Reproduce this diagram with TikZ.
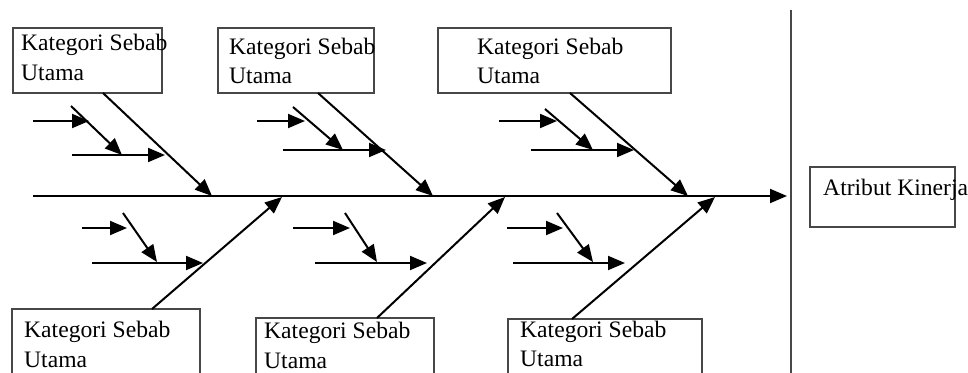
\documentclass[tikz,border=0pt]{standalone}
\usepackage{fontspec}
\setmainfont{Liberation Serif}
\usetikzlibrary{arrows.meta}
\begin{document}
\begin{tikzpicture}[x=1pt,y=-1pt,
  bx/.style={draw=black!72,line width=2.6pt,inner sep=0pt,fill=none},
  txt/.style={inner sep=0pt,font=\fontsize{23.6}{30}\selectfont,anchor=base west},
  ln/.style={line width=2pt,black},
  arr/.style={ln,-{Triangle[length=17pt,width=14pt]}}]
\useasboundingbox (0,0) rectangle (968,372);
% spine and vertical line
\coordinate (sp0) at (33,196);
\coordinate (sp1) at (787,196);
\coordinate (v0) at (791,10);
\coordinate (v1) at (791,380);
\draw[arr] (sp0) -- (sp1);
\draw[bx] (v0) -- (v1);
% boxes
\node[bx,minimum width=149pt,minimum height=65pt] (b1) at (87.5,60.5) {};
\node[bx,minimum width=156pt,minimum height=65pt] (b2) at (296,60.5) {};
\node[bx,minimum width=233pt,minimum height=65pt] (b3) at (554.5,60.5) {};
\node[bx,minimum width=188pt,minimum height=80pt] (b4) at (106,349) {};
\node[bx,minimum width=178pt,minimum height=70pt] (b5) at (345,353) {};
\node[bx,minimum width=194pt,minimum height=70pt] (b6) at (605,354) {};
\node[bx,minimum width=145pt,minimum height=60pt] (ak) at (882.5,197) {};
% texts
\node[txt] (t1a) at (21,50) {Kategori Sebab};
\node[txt] (t1b) at (21,80) {Utama};
\node[txt] (t2a) at (229,54) {Kategori Sebab};
\node[txt] (t2b) at (229,83) {Utama};
\node[txt] (t3a) at (477,54) {Kategori Sebab};
\node[txt] (t3b) at (477,83) {Utama};
\node[txt] (t4a) at (24,337) {Kategori Sebab};
\node[txt] (t4b) at (24,367) {Utama};
\node[txt] (t5a) at (264,338) {Kategori Sebab};
\node[txt] (t5b) at (264,368) {Utama};
\node[txt] (t6a) at (520,337) {Kategori Sebab};
\node[txt] (t6b) at (520,366) {Utama};
\node[txt] (tak) at (823,195) {Atribut Kinerja};
% main bones
\coordinate (m1s) at (103,93);  \coordinate (m1e) at (212,196);
\coordinate (m2s) at (318,93);  \coordinate (m2e) at (433,196);
\coordinate (m3s) at (570,93);  \coordinate (m3e) at (688,196);
\coordinate (m4s) at (152,309); \coordinate (m4e) at (282,197);
\coordinate (m5s) at (377,318); \coordinate (m5e) at (505,197);
\coordinate (m6s) at (572,319); \coordinate (m6e) at (715,197);
\foreach \i in {1,...,6} {\draw[arr] (m\i s) -- (m\i e);}
% small arrows, top
\coordinate (g1a) at (33,121);  \coordinate (g1b) at (89,121);
\coordinate (g1c) at (71,106);  \coordinate (g1d) at (122,155);
\coordinate (g1e) at (72,155);  \coordinate (g1f) at (165,155);
\coordinate (g2a) at (257,121); \coordinate (g2b) at (305,121);
\coordinate (g2c) at (293,107); \coordinate (g2d) at (343,150);
\coordinate (g2e) at (283,150); \coordinate (g2f) at (386,150);
\coordinate (g3a) at (499,121); \coordinate (g3b) at (557,121);
\coordinate (g3c) at (545,109); \coordinate (g3d) at (593,150);
\coordinate (g3e) at (531,150); \coordinate (g3f) at (634,150);
% small arrows, bottom
\coordinate (g4a) at (82,228);  \coordinate (g4b) at (127,228);
\coordinate (g4c) at (123,213); \coordinate (g4d) at (157,262);
\coordinate (g4e) at (92,263);  \coordinate (g4f) at (203,263);
\coordinate (g5a) at (293,228); \coordinate (g5b) at (350,228);
\coordinate (g5c) at (345,213); \coordinate (g5d) at (377,262);
\coordinate (g5e) at (315,263); \coordinate (g5f) at (427,263);
\coordinate (g6a) at (507,228); \coordinate (g6b) at (563,228);
\coordinate (g6c) at (557,213); \coordinate (g6d) at (593,262);
\coordinate (g6e) at (513,263); \coordinate (g6f) at (625,263);
\foreach \i in {1,...,6} {
  \draw[arr] (g\i a) -- (g\i b);
  \draw[arr] (g\i c) -- (g\i d);
  \draw[arr] (g\i e) -- (g\i f);
}
\end{tikzpicture}
\end{document}
